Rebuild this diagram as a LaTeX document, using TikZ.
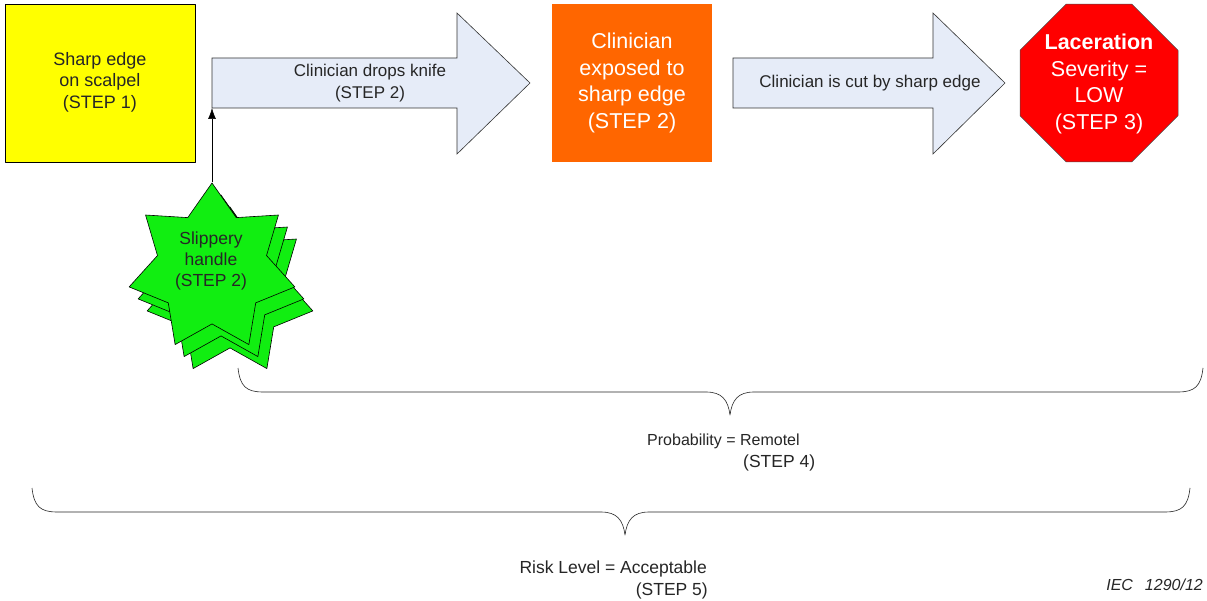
\documentclass[tikz,border=0pt]{standalone}
\usepackage{fontspec}
\setmainfont{Liberation Sans}
\usetikzlibrary{shapes.geometric,arrows.meta}
\definecolor{arrowblue}{HTML}{E6ECF8}
\definecolor{hazyellow}{HTML}{FFFF00}
\definecolor{sitorange}{HTML}{FF6600}
\definecolor{harmred}{HTML}{FF0000}
\definecolor{causegreen}{HTML}{11EE11}
\definecolor{txtgray}{HTML}{262626}
\tikzset{
  boxtext/.style={align=center, text=txtgray, font=\fontsize{18}{21.5}\selectfont},
  whitetext/.style={align=center, text=white, font=\fontsize{21.5}{26.5}\selectfont},
  arrowtext/.style={align=center, text=txtgray, font=\fontsize{17}{22}\selectfont},
  bracetext/.style={text=txtgray, inner sep=0pt, font=\fontsize{17.5}{22}\selectfont},
  bigarrow/.style={draw=black!80, fill=arrowblue, line width=0.6pt, line join=miter},
  starshape/.style={star, star points=7, star point ratio=1.52, minimum size=170pt,
    inner sep=0pt, draw=black, fill=causegreen, line width=0.6pt},
  brace/.style={draw=black!85, line width=0.6pt}
}
\begin{document}
\begin{tikzpicture}[x=1pt, y=-1pt, >={Latex[length=11pt,width=8pt]}, line join=round]
  \useasboundingbox[fill=white] (0,0) rectangle (1207,601);
  % step 1: hazard
  \fill[hazyellow, draw=black, line width=0.7pt] (5,4) rectangle (195,162);
  \node[boxtext] (hazard) at (100,82) {Sharp edge\\on scalpel\\(STEP 1)};
  % first event arrow
  \draw[bigarrow] (212,58) -- (457,58) -- (457,13) -- (530,83) -- (457,154)
    -- (457,108) -- (212,108) -- cycle;
  \coordinate (tail) at (212,108);
  \node[arrowtext] (drops) at (370,83) {Clinician drops knife\\(STEP 2)};
  % hazardous situation
  \fill[sitorange] (552,4) rectangle (712,162);
  \node[whitetext] (exposed) at (632,83) {Clinician\\exposed to\\sharp edge\\(STEP 2)};
  % second event arrow
  \draw[bigarrow] (733,58) -- (933,58) -- (933,13) -- (1005,83) -- (933,154)
    -- (933,108) -- (733,108) -- cycle;
  \node[arrowtext] (cut) at (870,83) {Clinician is cut by sharp edge};
  % harm
  \node[regular polygon, regular polygon sides=8, minimum size=171pt, inner sep=0pt,
    fill=harmred, draw=black!70, line width=0.5pt] (harm) at (1099,83) {};
  \node[whitetext] (severity) at (1099,84) {\textbf{Laceration}\\Severity =\\LOW\\(STEP 3)};
  % contributing cause
  \node[starshape] (slip3) at (230,292) {};
  \node[starshape] (slip2) at (221,280) {};
  \node[starshape] (slip) at (212,268) {};
  \node[boxtext, font=\fontsize{17.5}{21}\selectfont] (sliptext) at (211,261) {Slippery\\handle\\(STEP 2)};
  \draw[->, line width=0.6pt] (slip.north) -- (tail);
  % probability brace
  \draw[brace] (238,368) .. controls (240,386) and (246,392) .. (263,392) -- (706,392)
    .. controls (722,392) and (728,400) .. (730,415)
    .. controls (732,400) and (738,392) .. (754,392) -- (1178,392)
    .. controls (1195,392) and (1201,386) .. (1203,368);
  \node[bracetext, anchor=base west, font=\fontsize{16}{22}\selectfont] (prob) at (647,445) {Probability = Remotel};
  \node[bracetext, anchor=base west] (prob4) at (743,467) {(STEP 4)};
  % risk brace
  \draw[brace] (32,488) .. controls (34,506) and (40,512) .. (57,512) -- (601,512)
    .. controls (617,512) and (623,520) .. (625,535)
    .. controls (627,520) and (633,512) .. (649,512) -- (1165,512)
    .. controls (1182,512) and (1188,506) .. (1190,488);
  \node[bracetext, anchor=base east] (risk) at (707,573) {Risk Level = Acceptable};
  \node[bracetext, anchor=base east] (risk5) at (708,595) {(STEP 5)};
  \node[bracetext, anchor=base east, font=\fontsize{16}{18}\itshape] (iec) at (1203,590)
    {IEC\hspace{12pt}1290/12};
\end{tikzpicture}
\end{document}
